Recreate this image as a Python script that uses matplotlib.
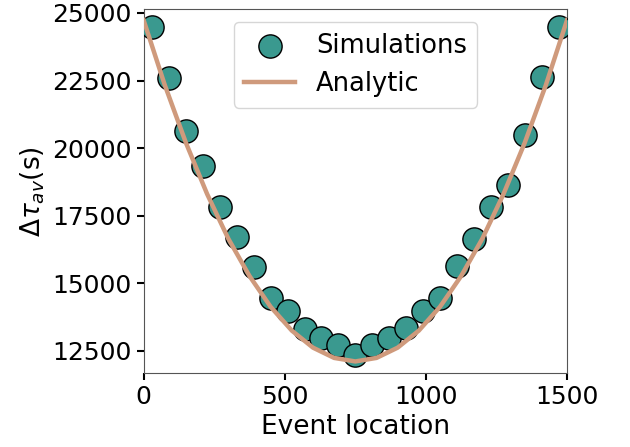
import numpy as np
import matplotlib
matplotlib.use("Agg")
import matplotlib.pyplot as plt

# simulated mean delay for each event location
sim_x = [30, 90, 150, 210, 270, 330, 390, 450, 510, 570, 630, 690, 750,
         810, 870, 930, 990, 1050, 1110, 1170, 1230, 1290, 1350, 1410, 1470]
sim_y = [24480, 22610, 20640, 19340, 17830, 16720, 15610, 14440, 13980, 13300,
         12980, 12710, 12340, 12710, 12960, 13330, 13980, 14440, 15640, 16620,
         17840, 18650, 20500, 22630, 24480]

# analytic curve sampled along the line
ana_x = [0, 75, 150, 225, 300, 375, 450, 525, 600, 675, 750,
         825, 900, 975, 1050, 1125, 1200, 1275, 1350, 1425, 1500]
ana_y = [24730, 22330, 20190, 18300, 16650, 15270, 14130, 13250, 12620, 12240, 12110,
         12240, 12620, 13250, 14130, 15270, 16650, 18300, 20190, 22330, 24730]

TEAL = "#3a998f"
TAN = "#cf9a7c"

plt.rcParams["font.size"] = 18

fig = plt.figure(figsize=(6.3, 4.47), dpi=100)
ax = fig.add_axes([0.228, 0.166, 0.672, 0.813])

ax.scatter(sim_x, sim_y, s=280, color=TEAL, edgecolors="black", linewidths=1.0,
           zorder=3, label="Simulations")
ax.plot(ana_x, ana_y, color=TAN, lw=3.2, zorder=4, label="Analytic")

ax.set_xlim(0, 1500)
ax.set_ylim(11690, 25130)
ax.set_xticks([0, 500, 1000, 1500])
ax.set_yticks([12500, 15000, 17500, 20000, 22500, 25000])
ax.set_xlabel("Event location", fontsize=19)
ax.set_ylabel(r"$\Delta\tau_{av}$(s)", fontsize=19)
for sp in ax.spines.values():
    sp.set_color("#555555")
ax.tick_params(length=5, width=1.5, labelsize=18)

ax.legend(loc="upper center", fontsize=18.5)

fig.savefig("out.png", dpi=100)
